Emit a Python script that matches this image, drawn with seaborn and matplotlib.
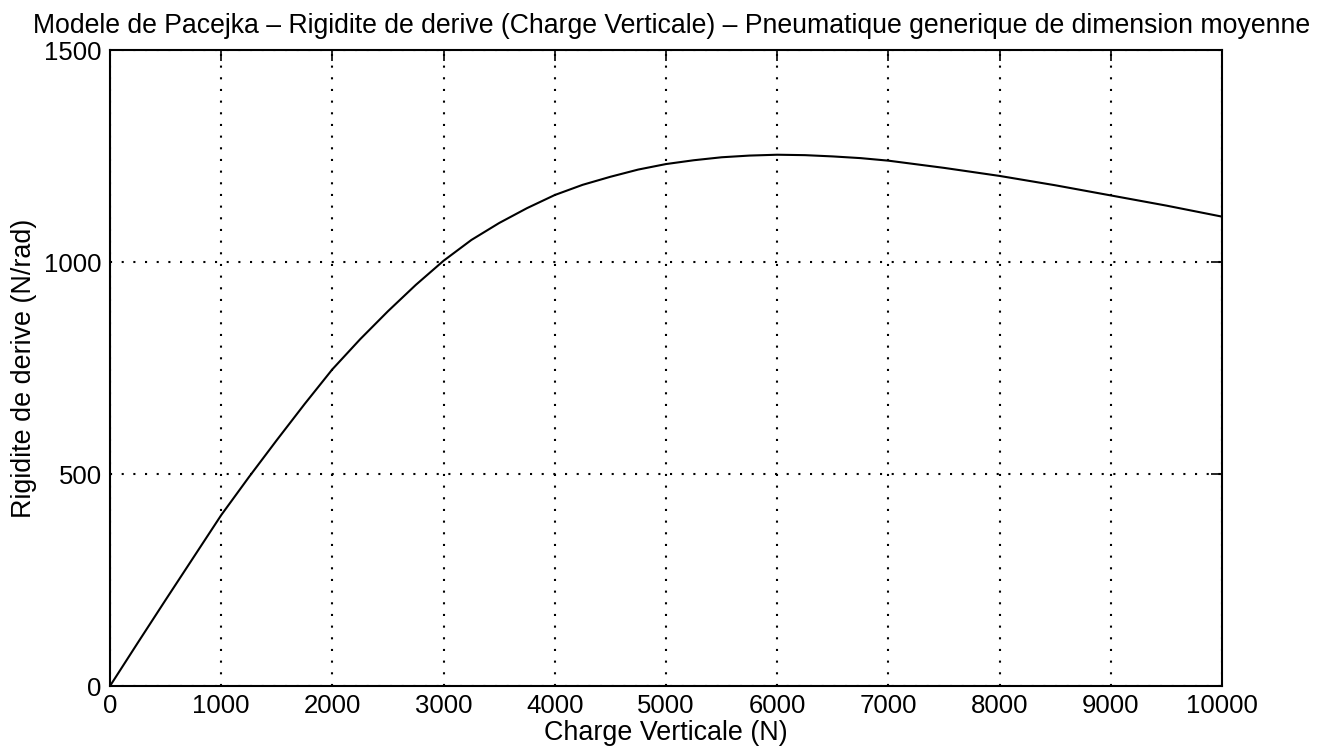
import matplotlib
matplotlib.use("Agg")
import matplotlib.pyplot as plt
import seaborn as sns
import pandas as pd

charge = [0, 250, 500, 750, 1000, 1250, 1500, 1750, 2000, 2250, 2500, 2750, 3000, 3250, 3500,
          3750, 4000, 4250, 4500, 4750, 5000, 5250, 5500, 5750, 6000, 6250, 6500, 6750, 7000,
          7500, 8000, 8500, 9000, 9500, 10000]
rigidite = [0, 102, 203, 303, 403, 493, 580, 665, 747, 818, 884, 946, 1003, 1052, 1092,
            1127, 1158, 1182, 1201, 1218, 1231, 1240, 1247, 1251, 1253, 1252, 1249, 1245, 1239,
            1222, 1203, 1181, 1157, 1133, 1107]
xticks = [0, 1000, 2000, 3000, 4000, 5000, 6000, 7000, 8000, 9000, 10000]
yticks = [0, 500, 1000, 1500]

title = "Modele de Pacejka \u2013 Rigidite de derive (Charge Verticale) \u2013 Pneumatique generique de dimension moyenne"
xlabel = "Charge Verticale (N)"
ylabel = "Rigidite de derive (N/rad)"

sns.set_style("white")
plt.rcParams["font.family"] = ["Liberation Sans", "DejaVu Sans"]
plt.rcParams["text.color"] = "black"
plt.rcParams["axes.labelcolor"] = "black"
plt.rcParams["xtick.color"] = "black"
plt.rcParams["ytick.color"] = "black"

df = pd.DataFrame({"x": charge, "y": rigidite})
fig = plt.figure(figsize=(13.29, 7.56), dpi=100)
ax = fig.add_axes([110/1329, 1-686/756, 1112/1329, 636/756])
sns.lineplot(data=df, x="x", y="y", ax=ax, color="black", linewidth=1.5)
ax.set_xlim(0, 10000)
ax.set_ylim(0, 1500)
ax.set_xticks(xticks)
ax.set_yticks(yticks)
ax.set_xticklabels([str(t) for t in xticks], fontsize=18.5)
ax.set_yticklabels([str(t) for t in yticks], fontsize=18.5)
ax.tick_params(direction="in", length=8, width=1.2, top=True, right=True,
               color="black", labelcolor="black", pad=6)
ax.grid(True, linestyle=(0, (1, 4.6)), color="black", linewidth=1.5)
for s in ax.spines.values():
    s.set_color("black")
    s.set_linewidth(1.5)
ax.set_xlabel(xlabel, fontsize=19.4, labelpad=1, color="black")
ax.set_ylabel(ylabel, fontsize=19.4, labelpad=5, color="black")
ax.set_title(title, fontsize=19.2, pad=12, color="black", x=0.505)
fig.savefig("out.png", dpi=100, facecolor="white")
